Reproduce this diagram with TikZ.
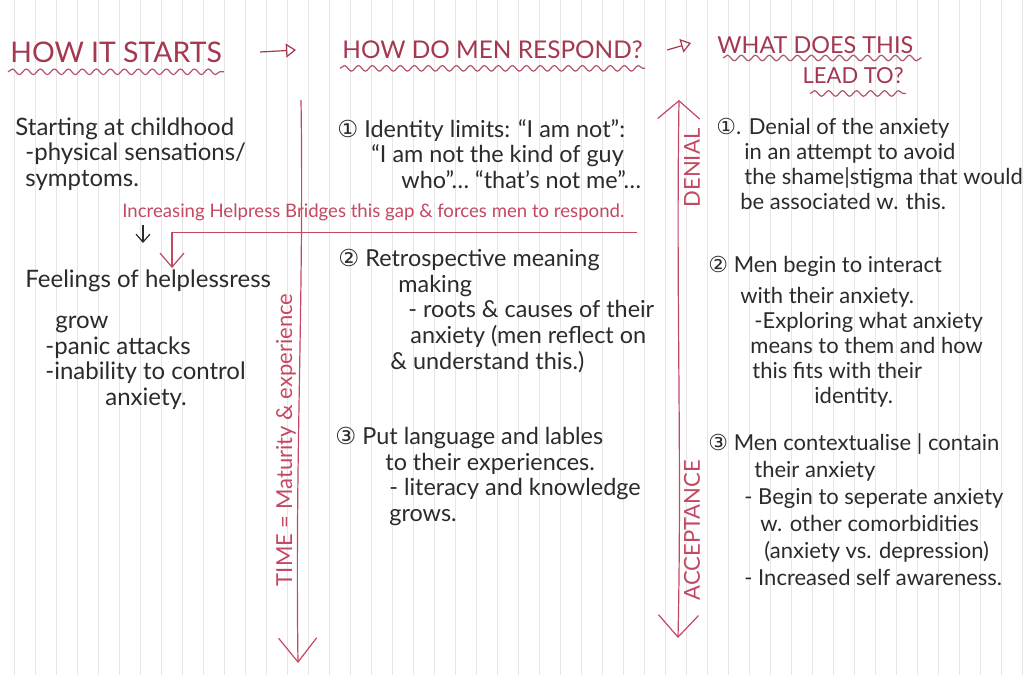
\documentclass[tikz,border=0pt]{standalone}
\usepackage{fontspec}
\setmainfont{Lato}
\newfontfamily\circfont{DejaVu Sans}
\usetikzlibrary{arrows.meta,decorations.pathmorphing}
\definecolor{ink}{HTML}{2B2B2B}
\definecolor{maroon}{HTML}{A3384F}
\definecolor{pen}{HTML}{C44862}
\definecolor{paperrule}{HTML}{E6E6E6}
\newcommand{\cnum}[1]{{\circfont #1}}

\begin{document}
\begin{tikzpicture}[
  x=0.5pt,y=-0.5pt,
  font=\fontsize{11}{12.5}\selectfont,
  txt/.style={anchor=north west,inner sep=0pt,align=left,text=ink},
  bigtxt/.style={txt,font=\fontsize{12}{12.8}\selectfont},
  midtxt/.style={txt,font=\fontsize{11.7}{12.8}\selectfont},
  headtxt/.style={font=\fontsize{12.2}{14}\selectfont,text=maroon,inner sep=1pt},
  wavy/.style={maroon!85,line width=0.6pt,decorate,
    decoration={snake,amplitude=1.4pt,segment length=7pt}},
  harr/.style={maroon,line width=0.6pt,-{Triangle[open,length=5pt,width=7pt]}},
  redline/.style={pen,line width=0.6pt},
  note/.style={text=pen,font=\fontsize{9.3}{10}\selectfont,inner sep=1pt},
  side/.style={text=pen,rotate=90,font=\fontsize{11}{12}\selectfont,inner sep=0pt}
]
\useasboundingbox[fill=white] (0,0) rectangle (1028,675);
% paper
\foreach \x in {14,35,...,1028}
  \draw[paperrule,line width=0.5pt] (\x,0) -- (\x,675);

% headings
\node[headtxt,anchor=west,font=\fontsize{14.2}{15}\selectfont] (hd1) at (8,52) {HOW IT STARTS};
\node[headtxt,anchor=west] (hd2) at (340,50) {HOW DO MEN RESPOND?};
\node[headtxt,anchor=west,font=\fontsize{11.7}{14}\selectfont] (hd3) at (715,45) {WHAT DOES THIS};
\node[headtxt,anchor=east,font=\fontsize{11}{14}\selectfont] (hd3b) at (906,76) {LEAD TO?};
\draw[wavy] ([yshift=-3.5pt]hd1.south west) -- ([yshift=-3.5pt]hd1.south east);
\draw[wavy] ([yshift=-3.5pt]hd2.south west) -- ([yshift=-3.5pt]hd2.south east);
\draw[wavy] ([xshift=4pt,yshift=-1pt]hd3.south west) -- ([xshift=3pt,yshift=-1pt]hd3.south east);
\draw[wavy] ([xshift=5pt,yshift=-3.5pt]hd3b.south west) -- ([yshift=-3.5pt]hd3b.south east);
\draw[harr] ([xshift=18pt]hd1.east) -- ([xshift=-22pt]hd2.west);
\draw[harr] ([xshift=11pt]hd2.east) -- ([xshift=-12pt,yshift=1pt]hd3.west);

% how it starts
\node[bigtxt] (start) at (15,117) {Starting at childhood\\
  \hspace*{5pt}-physical sensations/\\
  \hspace*{5pt}symptoms.};
\node[bigtxt] (feel) at (25,269) {Feelings of helplessress\\[8pt]
  \hspace*{15pt}grow\\
  \hspace*{10pt}-panic attacks\\
  \hspace*{10pt}-inability to control\\
  \hspace*{40pt}anxiety.};
\node[note,anchor=base west] (gap) at (120,217)
  {Increasing Helpress Bridges this gap \& forces men to respond.};
\coordinate (gapend) at (172,268);
\coordinate (dn) at (143,0);
\draw[ink,line width=0.6pt,-{Straight Barb[length=4pt,width=7pt]},
  shorten <=17pt,shorten >=13pt] (start.south -| dn) -- (feel.north -| dn);
\draw[redline,-{Straight Barb[length=7pt,width=12pt]}]
  ([xshift=5pt,yshift=-5pt]gap.south east) -| (gapend);

% time axis
\coordinate (ttop) at (301,100);
\coordinate (tbot) at (298,663);
\draw[redline,-{Straight Barb[length=12pt,width=19pt]}]
  (ttop) .. controls (304,300) and (295,450) .. (tbot);
\node[side] (time) at (286,440) {TIME = Maturity \& experience};

% how do men respond
\node[midtxt] (m1) at (337,119) {\cnum{①} Identity limits: ``I am not'':\\
  \hspace*{17pt}``I am not the kind of guy\\
  \hspace*{32pt}who''\dots\ ``that's not me''\dots};
\node[midtxt] (m2) at (338,249) {\cnum{②} Retrospective meaning\\
  \hspace*{30pt}making\\
  \hspace*{35pt}- roots \& causes of their\\
  \hspace*{36pt}anxiety (men reflect on\\
  \hspace*{26pt}\& understand this.)};
\node[midtxt] (m3) at (335,427) {\cnum{③} Put language and lables\\
  \hspace*{25pt}to their experiences.\\
  \hspace*{27pt}- literacy and knowledge\\
  \hspace*{27pt}grows.};

% denial -- acceptance axis
\coordinate (dtop) at (679,100);
\coordinate (dbot) at (678,638);
\draw[redline,{Straight Barb[length=9pt,width=21pt]}-{Straight Barb[length=11pt,width=20pt]}]
  (dtop) .. controls (676,300) and (682,450) .. (dbot);
\node[side] (denial) at (692,168) {DENIAL};
\node[side] (accept) at (692,530) {ACCEPTANCE};

% what does this lead to
\node[txt] (r1) at (716,118) {\cnum{①}. Denial of the anxiety\\
  \hspace*{14pt}in an attempt to avoid\\
  \hspace*{14pt}the shame|stigma that would\\
  \hspace*{12pt}be associated w. this.};
\node[txt] (r2) at (708,256) {\cnum{②} Men begin to interact\\[3pt]
  \hspace*{16pt}with their anxiety.\\
  \hspace*{23pt}-Exploring what anxiety\\
  \hspace*{21pt}means to them and how\\
  \hspace*{22pt}this fits with their\\
  \hspace*{53pt}identity.};
\node[txt,font=\fontsize{11}{13.5}\selectfont] (r3) at (708,433)
  {\cnum{③} Men contextualise | contain\\
  \hspace*{23pt}their anxiety\\
  \hspace*{18pt}- Begin to seperate anxiety\\
  \hspace*{26pt}w. other comorbidities\\
  \hspace*{28pt}(anxiety vs. depression)\\
  \hspace*{18pt}- Increased self awareness.};
\end{tikzpicture}
\end{document}
